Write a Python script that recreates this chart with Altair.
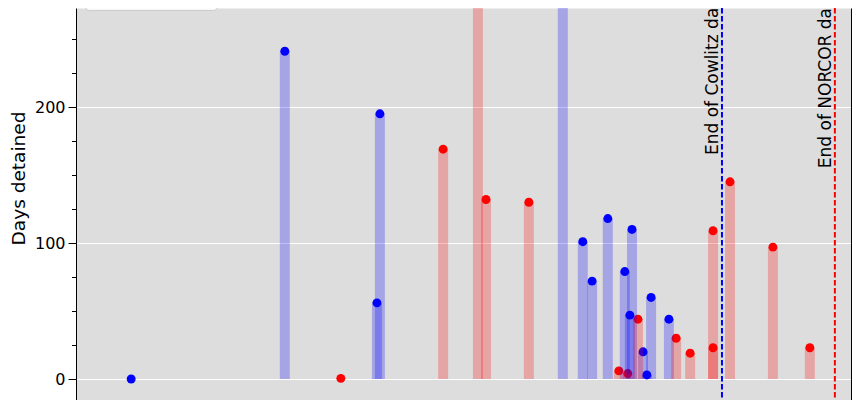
import altair as alt
import pandas as pd

# ---- data ----
facilities = ["Cowlitz", "NORCOR"]
facility_colors = ["#0000ff", "#ff0000"]

cowlitz_dates = ["2014-05-11", "2015-05-08", "2015-12-18", "2015-12-11", "2017-02-21",
                 "2017-04-09", "2017-05-01", "2017-06-07", "2017-07-17", "2017-08-03",
                 "2017-07-29", "2017-08-29", "2017-09-07", "2017-09-17", "2017-10-29"]
cowlitz_days = [0, 241, 195, 56, 320, 101, 72, 118, 79, 110, 47, 20, 3, 60, 44]

norcor_dates = ["2015-09-17", "2016-05-15", "2016-08-05", "2016-08-24", "2016-12-03",
                "2017-07-03", "2017-07-24", "2017-08-17", "2017-11-15", "2017-12-18",
                "2018-02-10", "2018-02-10", "2018-03-22", "2018-07-01", "2018-09-26"]
norcor_days = [0.5, 169, 300, 132, 130, 6, 4, 44, 30, 19, 109, 23, 145, 97, 23]

end_dates = ["2018-03-03", "2018-11-24"]
end_labels = ["End of Cowlitz data", "End of NORCOR data"]
end_label_y = [164.7, 155.0]

major_ticks = [0, 100, 200]
minor_ticks = [25, 50, 75, 125, 150, 175, 225, 250, 275]

df = pd.DataFrame({
    "facility": [facilities[0]] * len(cowlitz_dates) + [facilities[1]] * len(norcor_dates),
    "date": cowlitz_dates + norcor_dates,
    "days": cowlitz_days + norcor_days,
})
ends = pd.DataFrame({
    "facility": facilities,
    "date": end_dates,
    "label": end_labels,
    "label_y": end_label_y,
})

FONT = "DejaVu Sans"

x_scale = alt.Scale(
    type="utc", padding=0,
    domain=[alt.DateTime(year=2014, month=1, date=1, utc=True),
            alt.DateTime(year=2019, month=1, date=1, utc=True)],
)
y_scale = alt.Scale(domain=[-21.3, 272.8], nice=False, zero=False)
color_scale = alt.Scale(domain=facilities, range=facility_colors)

main_axis = alt.Axis(
    orient="left", values=major_ticks, grid=True, gridColor="white", gridWidth=1,
    tickSize=8, tickColor="black", tickWidth=1, domainColor="black", domainWidth=1,
    labelFontSize=16, labelFont=FONT, labelColor="black", labelPadding=3,
    title="Days detained", titleFontSize=18.5, titleFont=FONT, titleFontWeight="normal",
    titleColor="black", titleAngle=270, titleAlign="center", titleBaseline="alphabetic",
    titleX=-52, titleY=170,
)
minor_axis = alt.Axis(
    orient="left", values=minor_ticks, labels=False, grid=False, domain=False,
    ticks=True, tickSize=4.5, tickColor="black", tickWidth=1, title=None,
)
right_axis = alt.Axis(
    orient="right", labels=False, ticks=False, grid=False, domain=True,
    domainColor="black", domainWidth=1, title=None,
)
x_axis = alt.Axis(grid=False, format="%Y", labelFontSize=16, labelFont=FONT,
                  labelColor="black", tickColor="black", domainColor="black", title=None)

legend = alt.Legend(
    orient="none", legendX=9, legendY=-58, title=None,
    labelFontSize=16, labelFont=FONT, labelColor="black",
    symbolSize=80, symbolType="circle", symbolStrokeWidth=0,
    fillColor="rgba(255,255,255,0.8)", strokeColor="#cccccc", cornerRadius=4,
    padding=10, rowPadding=8, labelOffset=26,
)

points = alt.Chart(df).mark_circle(size=80, opacity=1, clip=True).encode(
    x=alt.X("date:T", scale=x_scale, axis=x_axis),
    y=alt.Y("days:Q", scale=y_scale, axis=main_axis),
    color=alt.Color("facility:N", scale=color_scale, legend=legend),
)

bars = alt.Chart(df).mark_bar(size=10, opacity=0.25, clip=True).encode(
    x=alt.X("date:T", scale=x_scale, axis=None),
    y=alt.Y("days:Q", scale=y_scale, axis=minor_axis),
    y2=alt.datum(0),
    color=alt.Color("facility:N", scale=color_scale, legend=None),
)

rules = alt.Chart(ends).mark_rule(strokeWidth=2, strokeDash=[5.5, 2.5]).encode(
    x=alt.X("date:T", scale=x_scale, axis=None),
    color=alt.Color("facility:N", scale=color_scale, legend=None),
)

texts = alt.Chart(ends).mark_text(
    angle=270, align="left", baseline="bottom", fontSize=17, font=FONT, color="black"
).encode(
    x=alt.X("date:T", scale=x_scale, axis=None),
    y=alt.Y("label_y:Q", scale=y_scale, axis=right_axis),
    text="label:N",
)

chart = (
    alt.layer(points, bars, rules, texts)
    .resolve_scale(y="shared", x="shared", color="shared")
    .resolve_axis(y="independent")
    .properties(
        width=775, height=400,
        padding={"left": 68, "top": 0, "right": 5, "bottom": 40},
        autosize=alt.AutoSizeParams(type="none"),
    )
    .configure(font=FONT)
    .configure_view(fill="#dddddd", stroke="transparent")
)

chart.save("out.html", embed_options={"renderer": "svg", "actions": False})
